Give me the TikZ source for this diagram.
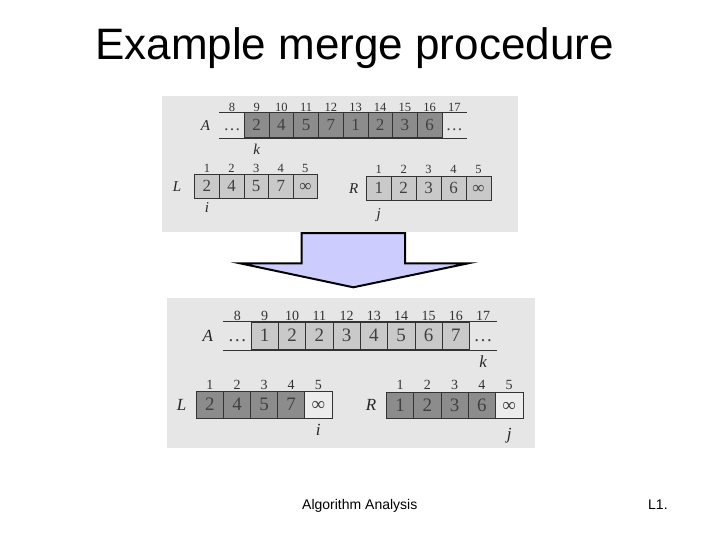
\documentclass[tikz,border=0pt]{standalone}
\usepackage{fontspec}
\setmainfont{Liberation Serif}
\setsansfont{Liberation Sans}
\usepackage{xcolor}
\usetikzlibrary{positioning}
\definecolor{scanbg}{HTML}{E6E6E6}
\definecolor{darkcell}{HTML}{8C8C8C}
\definecolor{lightcell}{HTML}{C9C9C9}
\definecolor{palecell}{HTML}{ECECEC}
\definecolor{arrowfill}{HTML}{CCCCFF}
\tikzset{
  scan/.style={fill=scanbg, draw=none},
  cellbox/.style={rectangle, draw=black!80, line width=0.7pt, inner sep=0pt,
    anchor=north west, text=black!75, text depth=0pt},
  topcell/.style={cellbox, minimum width=24.7pt, minimum height=25pt,
    text height=10.5pt, font=\fontsize{17}{17}\selectfont},
  botcell/.style={cellbox, minimum width=27.3pt, minimum height=27.5pt,
    text height=11.5pt, font=\fontsize{19}{19}\selectfont},
  dark/.style={fill=darkcell},
  light/.style={fill=lightcell},
  pale/.style={fill=palecell},
  dotcell/.style={draw=none, fill=none},
  aline/.style={draw=black!80, line width=0.7pt},
  idx/.style={anchor=base, inner sep=0pt, text=black!80},
  topidx/.style={idx, font=\fontsize{12.5}{12.5}\selectfont},
  botidx/.style={idx, font=\fontsize{14}{14}\selectfont},
  topname/.style={inner sep=0pt, text=black!85, font=\fontsize{15}{15}\selectfont\itshape},
  botname/.style={inner sep=0pt, text=black!85, font=\fontsize{17}{17}\selectfont\itshape},
  bigarrow/.style={draw=black, line width=2pt, fill=arrowfill, line join=miter},
  foot/.style={anchor=base west, inner sep=0pt, font=\fontsize{14}{14}\sffamily},
}
\begin{document}
\begin{tikzpicture}[x=1pt, y=1pt]
  \useasboundingbox (0,0) rectangle (720,-540);
  \node[anchor=base, inner sep=0pt, font=\fontsize{44}{44}\sffamily] (title) at (354.5,-60) {Example merge procedure};

  \fill[scan] (162,-96) rectangle (518,-232);
  \node[topcell, dotcell] (ta8) at (219.3,-112.3) {\ldots};
  \foreach \v [count=\n from 9] in {2,4,5,7,1,2,3,6}
    \node[topcell, dark] (ta\n) at ({244+(\n-9)*24.7}, -112.3) {\v};
  \node[topcell, dotcell] (ta17) at (441.7,-112.3) {\ldots};
  \draw[aline] (ta8.north west) -- (ta17.north east);
  \draw[aline] (ta8.south west) -- (ta17.south east);
  \foreach \n in {8,...,17}
    \node[topidx] (tai\n) at ([yshift=1pt]ta\n.north) {\n};
  \node[topname, left=9pt of ta8] (tA) {A};
  \node[topname, below=6pt of ta9] (tk) {k};

  \foreach \v [count=\n] in {2,4,5,7,∞}
    \node[topcell, light, minimum width=24.6pt, minimum height=24pt] (tl\n) at ({194.3+(\n-1)*24.6}, -174.3) {\v};
  \foreach \n in {1,...,5}
    \node[topidx] (tli\n) at ([yshift=2pt]tl\n.north) {\n};
  \node[topname, left=13pt of tl1] (tL) {L};
  \node[topname, below=3pt of tl1] (ti) {i};

  \foreach \v [count=\n] in {1,2,3,6,∞}
    \node[topcell, light, minimum width=24.9pt, minimum height=24pt] (tr\n) at ({366+(\n-1)*24.9}, -176) {\v};
  \foreach \n in {1,...,5}
    \node[topidx] (tri\n) at ([yshift=2pt]tr\n.north) {\n};
  \node[topname, left=7.5pt of tr1] (tR) {R};
  \node[topname, below=8pt of tr1] (tj) {j};

  \draw[bigarrow] (301.7,-233) coordinate (ar1) -- (405,-233) -- (405,-263.3) -- (468.3,-263.3)
    -- (353.3,-287.3) -- (240,-263.3) -- (301.7,-263.3) -- cycle;

  \fill[scan] (167,-298) rectangle (535,-448);
  \node[botcell, dotcell] (ba8) at (223.3,-321.7) {\ldots};
  \foreach \v [count=\n from 9] in {1,2,2,3,4,5,6,7}
    \node[botcell, light] (ba\n) at ({250.7+(\n-9)*27.3}, -321.7) {\v};
  \node[botcell, dotcell] (ba17) at (469.1,-321.7) {\ldots};
  \draw[aline] (ba8.north west) -- (ba17.north east);
  \draw[aline] (ba8.south west) -- (ba17.south east);
  \foreach \n in {8,...,17}
    \node[botidx] (bai\n) at ([yshift=1pt]ba\n.north) {\n};
  \node[botname, left=10pt of ba8] (bA) {A};
  \node[botname, below=6pt of ba17] (bk) {k};

  \foreach \v/\s [count=\n] in {2/dark,4/dark,5/dark,7/dark,∞/pale}
    \node[botcell, \s, minimum width=27.1pt, minimum height=26.7pt] (bl\n) at ({196+(\n-1)*27.1}, -391) {\v};
  \foreach \n in {1,...,5}
    \node[botidx] (bli\n) at ([yshift=2pt]bl\n.north) {\n};
  \node[botname, left=9.5pt of bl1] (bL) {L};
  \node[botname, below=5.5pt of bl5] (bi) {i};

  \foreach \v/\s [count=\n] in {1/dark,2/dark,3/dark,6/dark,∞/pale}
    \node[botcell, \s, minimum width=27.3pt, minimum height=26.6pt] (br\n) at ({386+(\n-1)*27.3}, -391.7) {\v};
  \foreach \n in {1,...,5}
    \node[botidx] (bri\n) at ([yshift=2pt]br\n.north) {\n};
  \node[botname, left=9.5pt of br1] (bR) {R};
  \node[botname, below=9pt of br5] (bj) {j};

  \node[foot] (ftr) at (302,-509) {Algorithm Analysis};
  \node[foot] (pg) at (648,-509) {L1.};
\end{tikzpicture}
\end{document}
